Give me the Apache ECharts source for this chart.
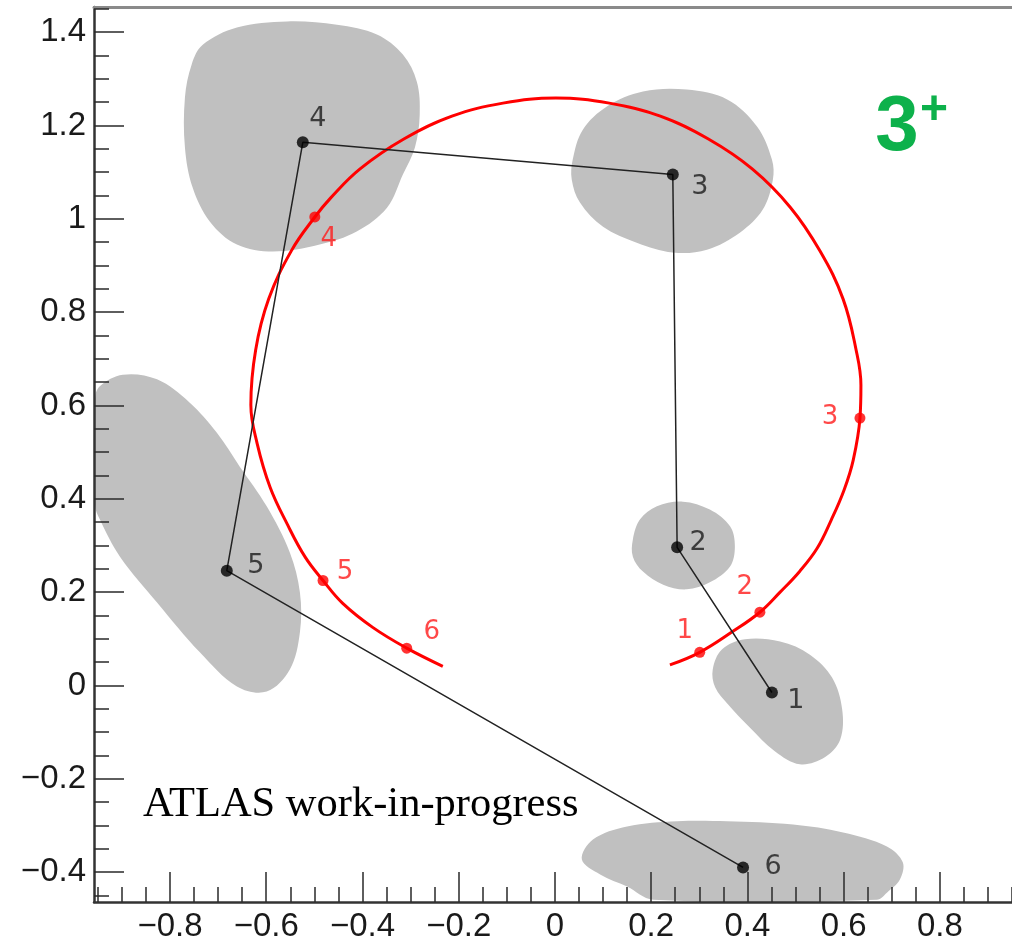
<!DOCTYPE html>
<html><head><meta charset="utf-8">
<script src="https://cdn.jsdelivr.net/npm/echarts@6/dist/echarts.min.js"></script>
<style>html,body{margin:0;padding:0;background:#fff}#c{width:1012px;height:943px}</style>
</head><body><div id="c"></div>
<script>
// ---- axis ticks ----
const xMajorTicks = [-0.8, -0.6, -0.4, -0.2, 0, 0.2, 0.4, 0.6, 0.8];
const xTickLabels = ['\u22120.8', '\u22120.6', '\u22120.4', '\u22120.2', '0', '0.2', '0.4', '0.6', '0.8'];
const yMajorTicks = [-0.4, -0.2, 0, 0.2, 0.4, 0.6, 0.8, 1, 1.2, 1.4];
const yTickLabels = ['\u22120.4', '\u22120.2', '0', '0.2', '0.4', '0.6', '0.8', '1', '1.2', '1.4'];
const xMinorTicks = [-0.95, -0.9, -0.85, -0.8, -0.75, -0.7, -0.65, -0.6, -0.55, -0.5, -0.45, -0.4, -0.35, -0.3, -0.25, -0.2, -0.15, -0.1, -0.05, 0,
  0.05, 0.1, 0.15, 0.2, 0.25, 0.3, 0.35, 0.4, 0.45, 0.5, 0.55, 0.6, 0.65, 0.7, 0.75, 0.8, 0.85, 0.9, 0.95];
const yMinorTicks = [-0.45, -0.4, -0.35, -0.3, -0.25, -0.2, -0.15, -0.1, -0.05, 0, 0.05, 0.1, 0.15, 0.2, 0.25, 0.3, 0.35, 0.4, 0.45, 0.5,
  0.55, 0.6, 0.65, 0.7, 0.75, 0.8, 0.85, 0.9, 0.95, 1, 1.05, 1.1, 1.15, 1.2, 1.25, 1.3, 1.35, 1.4, 1.45];

// ---- black track points (1..6) ----
const hitLabels = ['1', '2', '3', '4', '5', '6'];
const hitX = [0.451, 0.254, 0.245, -0.524, -0.682, 0.391];
const hitY = [-0.015, 0.296, 1.095, 1.164, 0.246, -0.390];

// ---- red fitted track ----
const trackX = [0.239, 0.301, 0.370, 0.426, 0.468, 0.509, 0.545, 0.574, 0.601, 0.620, 0.634, 0.636, 0.626, 0.599, 0.551, 0.489, 0.410, 0.319, 0.219, 0.113,
  0.002, -0.108, -0.214, -0.314, -0.405, -0.466, -0.499, -0.547, -0.595, -0.622, -0.632, -0.619, -0.592, -0.555, -0.519, -0.482, -0.441, -0.378, -0.308, -0.233];
const trackY = [0.044, 0.071, 0.116, 0.157, 0.200, 0.245, 0.294, 0.354, 0.419, 0.483, 0.573, 0.644, 0.719, 0.828, 0.931, 1.025, 1.107, 1.171, 1.220, 1.248,
  1.259, 1.248, 1.220, 1.171, 1.107, 1.045, 1.004, 0.933, 0.828, 0.719, 0.601, 0.519, 0.425, 0.343, 0.275, 0.225, 0.176, 0.124, 0.080, 0.041];

// ---- red track points (1..6) ----
const fitLabels = ['1', '2', '3', '4', '5', '6'];
const fitX = [0.301, 0.426, 0.634, -0.499, -0.482, -0.308];
const fitY = [0.071, 0.157, 0.573, 1.004, 0.225, 0.080];

// ---- gray regions (outline vertices, data units) ----
const region1 = [[0.328, 0.034], [0.347, 0.077], [0.395, 0.099], [0.468, 0.094], [0.530, 0.066], [0.576, 0.017], [0.597, -0.051], [0.593, -0.116],
  [0.561, -0.154], [0.509, -0.169], [0.457, -0.141], [0.405, -0.090], [0.360, -0.041], [0.333, -0.004]];
const region2 = [[0.162, 0.313], [0.177, 0.356], [0.212, 0.384], [0.266, 0.394], [0.322, 0.377], [0.364, 0.341], [0.374, 0.298], [0.364, 0.255],
  [0.322, 0.221], [0.274, 0.206], [0.225, 0.216], [0.183, 0.244], [0.162, 0.276]];
const region3 = [[0.037, 1.127], [0.058, 1.191], [0.108, 1.241], [0.183, 1.273], [0.274, 1.277], [0.358, 1.256], [0.420, 1.198], [0.451, 1.127],
  [0.453, 1.084], [0.432, 1.020], [0.385, 0.971], [0.316, 0.934], [0.245, 0.928], [0.170, 0.949], [0.100, 0.983], [0.052, 1.035], [0.035, 1.084]];
const region4 = [[-0.732, 1.373], [-0.661, 1.410], [-0.557, 1.423], [-0.453, 1.416], [-0.370, 1.395], [-0.316, 1.352], [-0.287, 1.294], [-0.281, 1.223],
  [-0.291, 1.153], [-0.316, 1.095], [-0.349, 1.024], [-0.412, 0.973], [-0.489, 0.945], [-0.586, 0.930], [-0.661, 0.945], [-0.717, 0.994],
  [-0.753, 1.067], [-0.769, 1.153], [-0.769, 1.260], [-0.755, 1.331]];
const region5 = [[-0.956, 0.613], [-0.946, 0.641], [-0.898, 0.666], [-0.827, 0.656], [-0.759, 0.606], [-0.703, 0.542], [-0.655, 0.469], [-0.599, 0.384],
  [-0.551, 0.285], [-0.530, 0.199], [-0.530, 0.114], [-0.551, 0.034], [-0.599, -0.013], [-0.661, -0.002], [-0.738, 0.071], [-0.827, 0.178],
  [-0.904, 0.276], [-0.946, 0.356], [-0.956, 0.388]];
const region6 = [[0.056, -0.373], [0.079, -0.330], [0.150, -0.302], [0.254, -0.291], [0.358, -0.291], [0.495, -0.298], [0.599, -0.315], [0.690, -0.345],
  [0.723, -0.379], [0.717, -0.416], [0.690, -0.444], [0.669, -0.459], [0.204, -0.459], [0.150, -0.431], [0.094, -0.405]];
const regions = [region1, region2, region3, region4, region5, region6];

// ---- label placement (pixel offsets, style only) ----
const hitLabelOffsets = [[24, 9], [21, -4], [27, 12], [15, -23], [29, -5], [30, 0]];
const fitLabelOffsets = [[-15, -21], [-15, -25], [-30, -1], [14, 22], [22, -8], [25, -16]];

const X_MIN = -0.958, X_MAX = 0.95, Y_MIN = -0.464, Y_MAX = 1.454;
const tickColor = '#2a2a2a';
const labelFont = { fontFamily: 'Liberation Sans, Arial, sans-serif', fontSize: 33, color: '#1a1a1a' };
function lookup(ticks, labels) {
  return v => { for (let i = 0; i < ticks.length; i++) if (Math.abs(ticks[i] - v) < 1e-9) return labels[i]; return ''; };
}

const chart = echarts.init(document.getElementById('c'), null, { renderer: 'canvas' });
chart.setOption({
  animation: false,
  backgroundColor: '#ffffff',
  grid: { left: 94, right: 0, top: 7, bottom: 41, containLabel: false },
  xAxis: [
    { type: 'value', min: X_MIN, max: X_MAX, position: 'bottom', z: 3,
      axisLine: { show: true, onZero: false, lineStyle: { color: '#333', width: 2.5 } },
      axisTick: { show: true, inside: true, length: 30, customValues: xMajorTicks, lineStyle: { color: tickColor, width: 1.5 } },
      axisLabel: Object.assign({ show: true, margin: 8, customValues: xMajorTicks, formatter: lookup(xMajorTicks, xTickLabels) }, labelFont),
      splitLine: { show: false } },
    { type: 'value', min: X_MIN, max: X_MAX, position: 'bottom', z: 3,
      axisLine: { show: false, onZero: false },
      axisTick: { show: true, inside: true, length: 15, customValues: xMinorTicks, lineStyle: { color: tickColor, width: 1.5 } },
      axisLabel: { show: false }, splitLine: { show: false } },
    { type: 'value', min: X_MIN, max: X_MAX, position: 'top', z: 3,
      axisLine: { show: true, onZero: false, lineStyle: { color: '#8a8a8a', width: 3 } },
      axisTick: { show: false }, axisLabel: { show: false }, splitLine: { show: false } }
  ],
  yAxis: [
    { type: 'value', min: Y_MIN, max: Y_MAX, position: 'left', z: 3,
      axisLine: { show: true, onZero: false, lineStyle: { color: '#333', width: 2.5 } },
      axisTick: { show: true, inside: true, length: 30, customValues: yMajorTicks, lineStyle: { color: tickColor, width: 1.5 } },
      axisLabel: Object.assign({ show: true, margin: 8, customValues: yMajorTicks, formatter: lookup(yMajorTicks, yTickLabels) }, labelFont),
      splitLine: { show: false } },
    { type: 'value', min: Y_MIN, max: Y_MAX, position: 'left', z: 3,
      axisLine: { show: false, onZero: false },
      axisTick: { show: true, inside: true, length: 15, customValues: yMinorTicks, lineStyle: { color: tickColor, width: 1.5 } },
      axisLabel: { show: false }, splitLine: { show: false } }
  ],
  series: [
    { type: 'custom', name: 'regions', z: 1, silent: true,
      data: regions.map((r, i) => [i]),
      encode: { x: -1, y: -1 },
      renderItem: function (params, api) {
        const pts = regions[params.dataIndex].map(p => api.coord(p));
        return { type: 'polygon', shape: { points: pts, smooth: 0.35 }, style: { fill: '#c0c0c0', stroke: null } };
      } },
    { type: 'line', name: 'fit', z: 5, smooth: 0.4, showSymbol: false, symbol: 'none',
      data: trackX.map((x, i) => [x, trackY[i]]),
      lineStyle: { color: '#ff0000', width: 3 } },
    { type: 'scatter', name: 'fitPoints', z: 6, symbol: 'circle', symbolSize: 11,
      itemStyle: { color: '#ff0000' },
      data: fitX.map((x, i) => ({ value: [x, fitY[i]], label: { offset: fitLabelOffsets[i] } })),
      label: { show: true, position: 'inside', formatter: p => fitLabels[p.dataIndex],
        fontFamily: 'DejaVu Sans, sans-serif', fontSize: 26, color: '#ff1a1a' } },
    { type: 'line', name: 'hits', z: 7, showSymbol: false, symbol: 'none',
      data: hitX.map((x, i) => [x, hitY[i]]),
      lineStyle: { color: '#222', width: 1.5 } },
    { type: 'scatter', name: 'hitPoints', z: 8, symbol: 'circle', symbolSize: 12,
      itemStyle: { color: '#000' },
      data: hitX.map((x, i) => ({ value: [x, hitY[i]], label: { offset: hitLabelOffsets[i] } })),
      label: { show: true, position: 'inside', formatter: p => hitLabels[p.dataIndex],
        fontFamily: 'DejaVu Sans, sans-serif', fontSize: 27, color: '#1a1a1a' } }
  ],
  graphic: [
    { type: 'text', z: 10, style: { text: 'ATLAS work-in-progress', x: 143, y: 805, verticalAlign: 'middle', align: 'left',
      font: '42.5px "Liberation Serif", "Times New Roman", serif', fill: '#000' } },
    { type: 'text', z: 10, style: { text: '3', x: 897, y: 128, verticalAlign: 'middle', align: 'center',
      font: 'bold 78px "Liberation Sans", Arial, sans-serif', fill: '#0db14b' } },
    { type: 'text', z: 10, style: { text: '+', x: 934, y: 111, verticalAlign: 'middle', align: 'center',
      font: 'bold 48px "Liberation Sans", Arial, sans-serif', fill: '#0db14b' } }
  ]
});
</script></body></html>
